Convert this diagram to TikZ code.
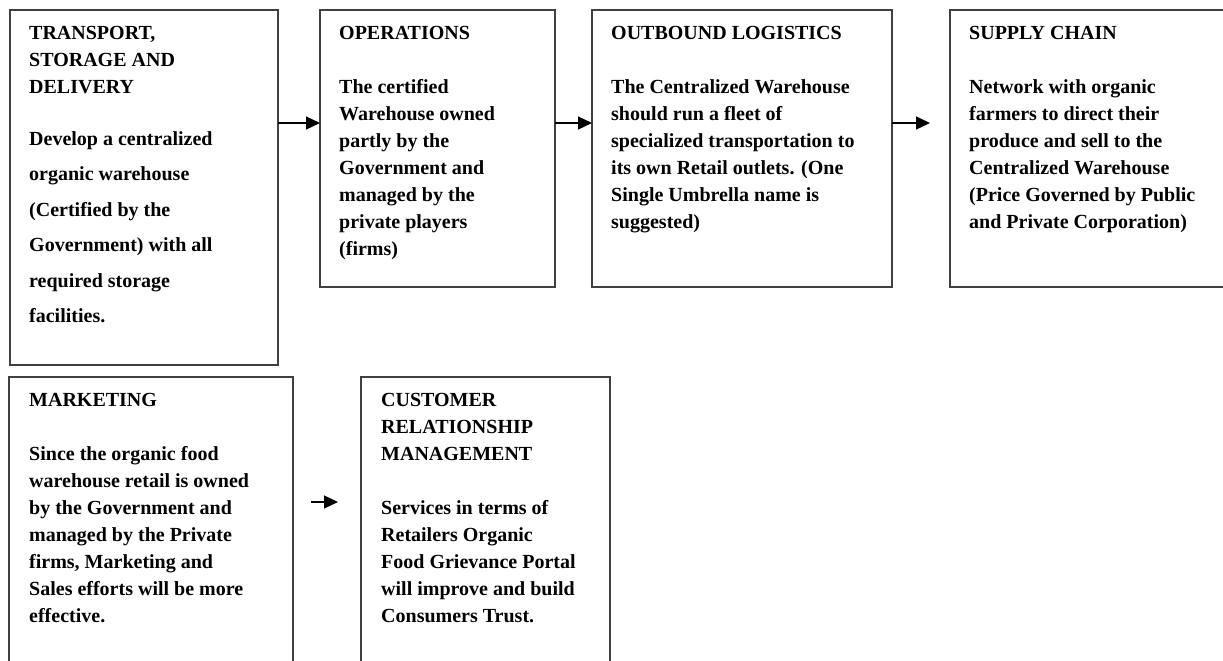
\documentclass[tikz,border=0pt]{standalone}
\usepackage{fontspec}
\setmainfont{Liberation Serif}
\usetikzlibrary{arrows.meta}

\tikzset{
 blk/.style={draw=black!75, line width=1.4pt, inner sep=0pt, outer sep=0pt, anchor=north west},
 txt/.style={anchor=north west, inner sep=0pt, align=left, font=\fontsize{20}{27}\selectfont\bfseries},
 flow/.style={line width=1.3pt, -{Triangle[length=14pt,width=13pt]}}
}

\begin{document}
\begin{tikzpicture}[x=1pt,y=-1pt]
\useasboundingbox (0,0) rectangle (1223,661);
% top row
\node[blk, minimum width=268pt, minimum height=355pt] (tsd) at (10,10) {};
\node[blk, minimum width=235pt, minimum height=277pt] (ops) at (320,10) {};
\node[blk, minimum width=300pt, minimum height=277pt] (obl) at (592,10) {};
\node[blk, minimum width=300pt, minimum height=277pt] (sch) at (950,10) {};
% bottom row
\node[blk, minimum width=284pt, minimum height=310pt] (mkt) at (9,377) {};
\node[blk, minimum width=249pt, minimum height=310pt] (crm) at (361,377) {};

\node[txt] (tsdtext) at ([xshift=19pt,yshift=-16pt]tsd.north west)
 {TRANSPORT,\\ STORAGE AND\\ DELIVERY\\[25pt]
  Develop a centralized\\[8.5pt] organic warehouse\\[8.5pt] (Certified by the\\[8.5pt]
  Government) with all\\[8.5pt] required storage\\[8.5pt] facilities.};
\node[txt] (opstext) at ([xshift=19pt,yshift=-16pt]ops.north west)
 {OPERATIONS\\[27pt] The certified\\ Warehouse owned\\ partly by the\\ Government and\\
  managed by the\\ private players\\ (firms)};
\node[txt] (obltext) at ([xshift=19pt,yshift=-16pt]obl.north west)
 {OUTBOUND LOGISTICS\\[27pt] The Centralized Warehouse\\ should run a fleet of\\
  specialized transportation to\\ its own Retail outlets. (One\\ Single Umbrella name is\\ suggested)};
\node[txt] (schtext) at ([xshift=19pt,yshift=-16pt]sch.north west)
 {SUPPLY CHAIN\\[27pt] Network with organic\\ farmers to direct their\\ produce and sell to the\\
  Centralized Warehouse\\ (Price Governed by Public\\ and Private Corporation)};
\node[txt] (mkttext) at ([xshift=20pt,yshift=-16pt]mkt.north west)
 {MARKETING\\[27pt] Since the organic food\\ warehouse retail is owned\\ by the Government and\\
  managed by the Private\\ firms, Marketing and\\ Sales efforts will be more\\ effective.};
\node[txt] (crmtext) at ([xshift=20pt,yshift=-16pt]crm.north west)
 {CUSTOMER\\ RELATIONSHIP\\ MANAGEMENT\\[27pt] Services in terms of\\ Retailers Organic\\
  Food Grievance Portal\\ will improve and build\\ Consumers Trust.};

% flow arrows
\draw[flow] ([yshift=-113pt]tsd.north east) -- ([yshift=-113pt]ops.north west);
\draw[flow] ([yshift=-113pt]ops.north east) -- ([yshift=-113pt]obl.north west);
\draw[flow] ([yshift=-113pt]obl.north east) -- ([xshift=-20pt,yshift=-113pt]sch.north west);
\draw[flow] ([xshift=18pt,yshift=-125pt]mkt.north east) -- ([xshift=-23pt,yshift=-125pt]crm.north west);
\end{tikzpicture}
\end{document}
